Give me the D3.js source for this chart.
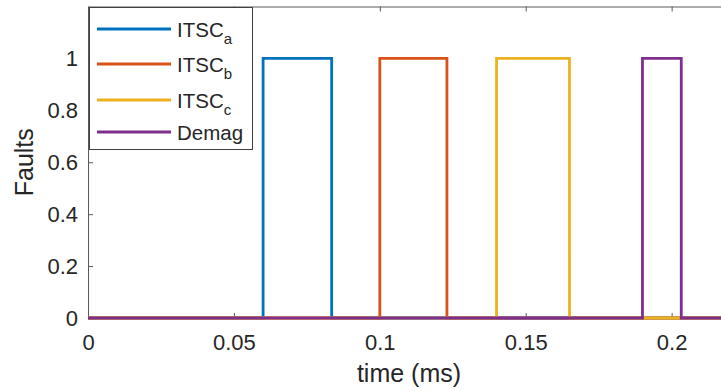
<!DOCTYPE html>
<html><head><meta charset="utf-8">
<script src="https://cdn.jsdelivr.net/npm/d3@7"></script>
<style>
html,body{margin:0;padding:0;background:#fff;}
svg{display:block;}
text{font-family:"Liberation Sans",Arial,Helvetica,sans-serif;fill:#262626;}
</style></head>
<body>
<svg id="chart" width="721" height="391"></svg>
<script>
// ---- data ----
const seriesNames = ["ITSC", "ITSC", "ITSC", "Demag"];
const seriesSubs = ["a", "b", "c", ""];
const seriesColors = ["#0072BD", "#D95319", "#EDB120", "#7E2F8E"];
const timeA = [0, 0.06, 0.06, 0.0835, 0.0835, 0.22];
const valA  = [0, 0, 1, 1, 0, 0];
const timeB = [0, 0.1, 0.1, 0.123, 0.123, 0.22];
const valB  = [0, 0, 1, 1, 0, 0];
const timeC = [0, 0.14, 0.14, 0.165, 0.165, 0.22];
const valC  = [0, 0, 1, 1, 0, 0];
const timeD = [0, 0.19, 0.19, 0.2033, 0.2033, 0.22];
const valD  = [0, 0, 1, 1, 0, 0];
const xTicks = [0, 0.05, 0.1, 0.15, 0.2];
const xTickLabels = ["0", "0.05", "0.1", "0.15", "0.2"];
const yTicks = [0, 0.2, 0.4, 0.6, 0.8, 1];
const yTickLabels = ["0", "0.2", "0.4", "0.6", "0.8", "1"];
const xLabel = "time (ms)";
const yLabel = "Faults";

const allTimes = [timeA, timeB, timeC, timeD];
const allVals = [valA, valB, valC, valD];

// ---- layout ----
const svg = d3.select("#chart");
const mLeft = 88, mTop = 6.5, plotRight = 730, mBottom = 318;
const x = d3.scaleLinear().domain([0, 0.22]).range([mLeft, plotRight]);
const y = d3.scaleLinear().domain([0, 1.2]).range([mBottom, mTop]);
const axisColor = "#5a5a5a";
const tickFont = 22;

// axes
const gx = svg.append("g").attr("transform", `translate(0,${mBottom})`)
  .call(d3.axisBottom(x).tickValues(xTicks).tickFormat((d,i)=>xTickLabels[i]).tickSizeInner(-5).tickSizeOuter(0).tickPadding(16.5));
const gxTop = svg.append("g").attr("transform", `translate(0,${mTop})`)
  .call(d3.axisTop(x).tickValues(xTicks).tickFormat("").tickSizeInner(-5).tickSizeOuter(0));
const gy = svg.append("g").attr("transform", `translate(${mLeft},0)`)
  .call(d3.axisLeft(y).tickValues(yTicks).tickFormat((d,i)=>yTickLabels[i]).tickSizeInner(-5).tickSizeOuter(0).tickPadding(10));
[gx, gxTop, gy].forEach(g => {
  g.select(".domain").attr("stroke", axisColor).attr("stroke-width", 1);
  g.selectAll(".tick line").attr("stroke", axisColor);
  g.selectAll(".tick text").attr("font-size", tickFont).attr("fill", "#262626")
    .attr("font-family", '"Liberation Sans",Arial,sans-serif');
});

// labels
svg.append("text").attr("x", 409).attr("y", 382).attr("text-anchor", "middle")
  .attr("font-size", 25).text(xLabel);
svg.append("text").attr("transform", `translate(33,${(mTop+mBottom)/2}) rotate(-90)`)
  .attr("text-anchor", "middle").attr("font-size", 25).text(yLabel);

// lines
svg.append("clipPath").attr("id", "clip").append("rect")
  .attr("x", mLeft - 2).attr("y", mTop - 2).attr("width", plotRight - mLeft + 4).attr("height", mBottom - mTop + 4);
const line = d3.line().x(d => x(d[0])).y(d => y(d[1]));
allTimes.forEach((ts, i) => {
  const pts = ts.map((t, j) => [t, allVals[i][j]]);
  svg.append("path").attr("d", line(pts)).attr("fill", "none")
    .attr("stroke", seriesColors[i]).attr("stroke-width", 2.8)
    .attr("stroke-linejoin", "miter").attr("clip-path", "url(#clip)");
});

// legend
const lg = svg.append("g");
lg.append("rect").attr("x", 89.5).attr("y", 7.5).attr("width", 163).attr("height", 142)
  .attr("fill", "#fff").attr("stroke", "#404040").attr("stroke-width", 1);
const rowsY = [29, 64, 100, 132];
seriesNames.forEach((n, i) => {
  lg.append("line").attr("x1", 97).attr("x2", 171).attr("y1", rowsY[i]).attr("y2", rowsY[i])
    .attr("stroke", seriesColors[i]).attr("stroke-width", 2.8);
  const t = lg.append("text").attr("x", 177).attr("y", rowsY[i] + 7.5).attr("font-size", 20.5);
  t.append("tspan").text(n);
  if (seriesSubs[i]) t.append("tspan").attr("dy", 7).attr("font-size", 15).text(seriesSubs[i]);
});
</script>
</body></html>
